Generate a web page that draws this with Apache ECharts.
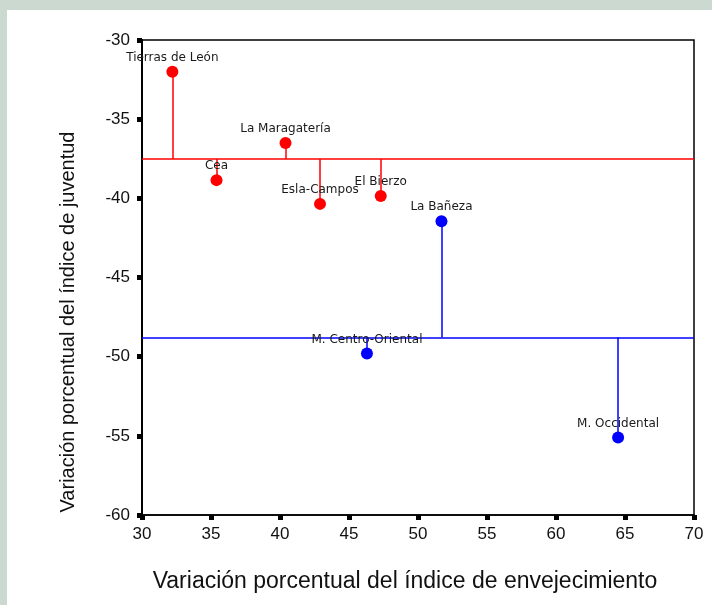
<!DOCTYPE html>
<html>
<head>
<meta charset="utf-8">
<script src="https://cdn.jsdelivr.net/npm/echarts@6/dist/echarts.min.js"></script>
<style>
html,body{margin:0;padding:0;background:#cbd9d1;}
#chart{width:712px;height:605px;}
</style>
</head>
<body>
<div id="chart"></div>
<script>
// Group 1 (red)
var redNames = ["Tierras de León", "La Maragatería", "Cea", "Esla-Campos", "El Bierzo"];
var redX = [32.2, 40.4, 35.4, 42.9, 47.3];
var redY = [-32.0, -36.5, -38.85, -40.35, -39.85];
// Group 2 (blue)
var blueNames = ["La Bañeza", "M. Centro-Oriental", "M. Occidental"];
var blueX = [51.7, 46.3, 64.5];
var blueY = [-41.45, -49.8, -55.1];
// Axes
var xTicks = [30, 35, 40, 45, 50, 55, 60, 65, 70];
var yTicks = [-60, -55, -50, -45, -40, -35, -30];
var xTitle = "Variación porcentual del índice de envejecimiento";
var yTitle = "Variación porcentual del índice de juventud";

function mean(a){var s=0;for(var i=0;i<a.length;i++)s+=a[i];return s/a.length;}
var redMean = mean(redY);
var blueMean = mean(blueY);

function pts(names, xs, ys){
  return names.map(function(n,i){return {name:n, value:[xs[i], ys[i]]};});
}
function drops(xs, ys, m){
  return xs.map(function(x,i){return [{coord:[x, ys[i]]},{coord:[x, m]}];});
}
var FONT = "'Liberation Sans', Arial, sans-serif";

function groupSeries(names, xs, ys, m, color){
  return {
    type:'scatter',
    data: pts(names, xs, ys),
    symbol:'circle',
    symbolSize:12,
    itemStyle:{color:color, opacity:1},
    label:{show:true, position:'top', distance:2, formatter:'{b}', fontFamily:"'DejaVu Sans', sans-serif", fontSize:12, color:'#1a1a1a'},
    z:5,
    markLine:{
      silent:true, symbol:'none', animation:false,
      label:{show:false},
      lineStyle:{color:color, width:1.5, type:'solid'},
      emphasis:{disabled:true},
      data: [{yAxis:m}].concat(drops(xs, ys, m))
    }
  };
}

var chart = echarts.init(document.getElementById('chart'));
chart.setOption({
  animation:false,
  backgroundColor:'transparent',
  graphic:[
    {type:'rect', shape:{x:7,y:10,width:705,height:595}, style:{fill:'#ffffff'}, z:-10, silent:true},
    {type:'text', x:405, y:582, silent:true,
      style:{text:xTitle, fontFamily:FONT, fontSize:23, fill:'#111', align:'center', verticalAlign:'middle'}},
    {type:'text', x:68, y:322, rotation:Math.PI/2, silent:true,
      style:{text:yTitle, fontFamily:FONT, fontSize:20, fill:'#111', align:'center', verticalAlign:'middle'}}
  ],
  grid:{left:142, right:18, top:40, bottom:90, show:true, borderColor:'#000', borderWidth:1.5, backgroundColor:'transparent'},
  xAxis:{
    type:'value', min:xTicks[0], max:xTicks[xTicks.length-1], interval:5,
    axisLine:{show:true, onZero:false, lineStyle:{color:'#000', width:1.5}},
    axisTick:{show:true, length:5, lineStyle:{color:'#000', width:5}},
    axisLabel:{fontFamily:FONT, fontSize:17, color:'#111', margin:11},
    splitLine:{show:false}
  },
  yAxis:{
    type:'value', min:yTicks[0], max:yTicks[yTicks.length-1], interval:5,
    axisLine:{show:true, onZero:false, lineStyle:{color:'#000', width:2}},
    axisTick:{show:true, length:5, lineStyle:{color:'#000', width:5}},
    axisLabel:{fontFamily:FONT, fontSize:17, color:'#111', margin:12},
    splitLine:{show:false}
  },
  series:[
    groupSeries(redNames, redX, redY, redMean, '#ff0000'),
    groupSeries(blueNames, blueX, blueY, blueMean, '#0000ff')
  ]
});
</script>
</body>
</html>
